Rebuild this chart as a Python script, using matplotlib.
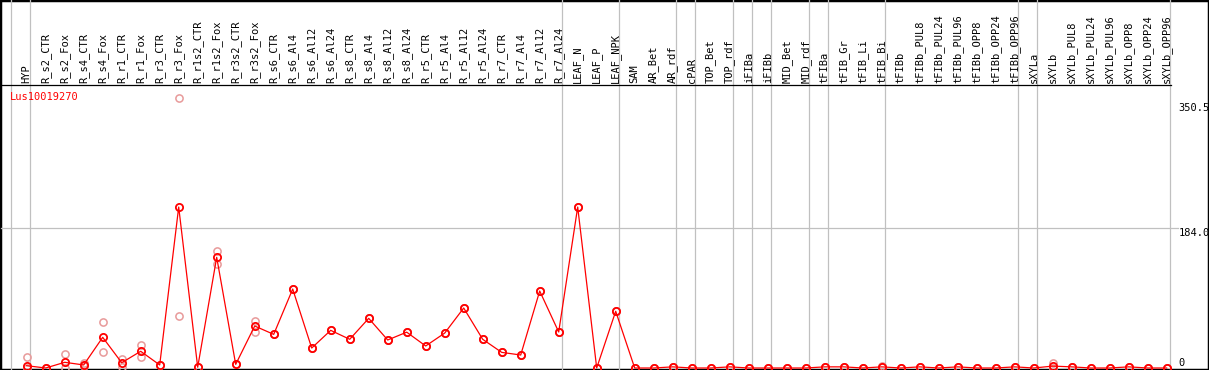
import numpy as np
import matplotlib.pyplot as plt
from matplotlib.transforms import ScaledTranslation

plt.rcParams['font.family'] = ['DejaVu Sans Mono']

# 样本名称
samples = ['HYP', 'R_s2_CTR', 'R_s2_Fox', 'R_s4_CTR', 'R_s4_Fox', 'R_r1_CTR', 'R_r1_Fox',
           'R_r3_CTR', 'R_r3_Fox', 'R_r1s2_CTR', 'R_r1s2_Fox', 'R_r3s2_CTR', 'R_r3s2_Fox',
           'R_s6_CTR', 'R_s6_Al4', 'R_s6_Al12', 'R_s6_Al24', 'R_s8_CTR', 'R_s8_Al4',
           'R_s8_Al12', 'R_s8_Al24', 'R_r5_CTR', 'R_r5_Al4', 'R_r5_Al12', 'R_r5_Al24',
           'R_r7_CTR', 'R_r7_Al4', 'R_r7_Al12', 'R_r7_Al24', 'LEAF_N', 'LEAF_P', 'LEAF_NPK',
           'SAM', 'AR_Bet', 'AR_rdf', 'cPAR', 'TOP_Bet', 'TOP_rdf', 'iFIBa', 'iFIBb',
           'MID_Bet', 'MID_rdf', 'tFIBa', 'tFIB_Gr', 'tFIB_Li', 'tFIB_Bi', 'tFIBb',
           'tFIBb_PUL8', 'tFIBb_PUL24', 'tFIBb_PUL96', 'tFIBb_OPP8', 'tFIBb_OPP24',
           'tFIBb_OPP96', 'sXYLa', 'sXYLb', 'sXYLb_PUL8', 'sXYLb_PUL24', 'sXYLb_PUL96',
           'sXYLb_OPP8', 'sXYLb_OPP24', 'sXYLb_OPP96']

# 平均表达值
mean_expr = [3.0, 0, 7.5, 4, 40.4, 7, 22, 4, 212, 1, 145.8, 4.8, 55.3,
             44.3, 104, 26.3, 49.6, 37.8, 65.4, 36.9, 47.2, 29, 46, 79, 37.8,
             20.6, 17.1, 101.4, 47.4, 212, 0, 74.7,
             0, 0, 1.5, 0, 0, 1.5, 0, 0, 0, 0, 1.5, 1.5, 0, 1.5, 0,
             1.5, 0, 1.5, 0, 0, 1.5, 0, 2.5, 1.5, 0, 0, 1.5, 0, 0]

# 重复样本 (浅色点)
rep1 = [14.5, 0, 18, 6, 60.2, 11.4, 30.7, 4, 355, 1, 154.5, 4.8, 62.3,
        44.3, 104, 26.3, 49.6, 37.8, 65.4, 36.9, 47.2, 29, 46, 79, 37.8,
        20.6, 17.1, 101.4, 47.4, 212, 0, 74.7,
        0, 0, 1.5, 0, 0, 1.5, 0, 0, 0, 0, 1.5, 1.5, 0, 3, 0,
        1.5, 0, 1.5, 0, 0, 1.5, 0, 7, 1.5, 0, 0, 1.5, 0, 0]
rep2 = [0, 0, 0, 2, 20.7, 1.8, 14, 4, 68.5, 1, 137, 4.8, 47,
        44.3, 104, 26.3, 49.6, 37.8, 65.4, 36.9, 47.2, 29, 46, 79, 37.8,
        20.6, 17.1, 101.4, 47.4, 212, 0, 74.7,
        0, 0, 1.5, 0, 0, 1.5, 0, 0, 0, 0, 1.5, 1.5, 0, 1.5, 0,
        1.5, 0, 1.5, 0, 0, 1.5, 0, 0, 1.5, 0, 0, 1.5, 0, 0]

# 分组边界 (在这些样本之后)
group_ends = [-1, 0, 28, 31, 34, 35, 37, 38, 39, 41, 42, 45, 52, 53, 60]
y_ticks = [0, 184.0, 350.5]
y_ticklabels = ['0', '184.0', '350.5']
gene = 'Lus10019270'

W, H = 1209, 370
fig = plt.figure(figsize=(W / 100, H / 100), dpi=100)

# 外框
frame = fig.add_axes([0, 0, 1, 1])
frame.set_xticks([])
frame.set_yticks([])
frame.patch.set_alpha(0)
for s in frame.spines.values():
    s.set_linewidth(2.5)
    s.set_color('black')

# 像素 -> 坐标
x0, dx = 26.7, 19.0
left_px, right_px = 1, 1170.7
top_px, bot_px = 85, 369
ax = fig.add_axes([left_px / W, (H - bot_px) / H, (right_px - left_px) / W, (bot_px - top_px) / H])
ax.patch.set_alpha(0)
ax.set_xlim((left_px - x0) / dx, (right_px - x0) / dx)
scale = (368 - 228.3) / 184.0
ax.set_ylim(-(bot_px - 368) / scale, (368 - top_px) / scale)

x = np.arange(len(samples))

# 分隔线 (延伸到表头)
for g in group_ends:
    ax.axvline(g + 0.19, ymin=0, ymax=bot_px / (bot_px - top_px), color='#c0c0c0',
               lw=0.9, clip_on=False, zorder=0)
ax.axhline(y_ticks[1], xmin=0, xmax=1.006, color='#c0c0c0', lw=0.9, clip_on=False, zorder=0)

ax.plot(x, rep1, 'o', ms=5.2, mfc='none', mec='#e89a9a', mew=1.1, zorder=2, clip_on=False)
ax.plot(x, rep2, 'o', ms=5.2, mfc='none', mec='#e89a9a', mew=1.1, zorder=2, clip_on=False)
ax.plot(x, mean_expr, '-', color='red', lw=0.9, zorder=3)
ax.plot(x, mean_expr, 'o', ms=5.2, mfc='none', mec='red', mew=1.3, zorder=4, clip_on=False)

ax.text(0.0075, 0.957, gene, color='red', fontsize=7.5, ha='left', va='center',
        transform=ax.transAxes)

# 样本标签在上方
ax.xaxis.tick_top()
ax.set_xticks(x)
ax.set_xticklabels(samples, rotation=90, fontsize=7.5, va='bottom', ha='center')
ax.tick_params(axis='x', length=0, pad=1.5)

# 右侧刻度
ax.yaxis.tick_right()
ax.set_yticks(y_ticks)
ax.set_yticklabels(y_ticklabels, fontsize=7.5)
ax.tick_params(axis='y', length=0, pad=5.5)
for lab, off in zip(ax.get_yticklabels(), [6.0, -3.4, -4.7]):
    lab.set_transform(lab.get_transform() + ScaledTranslation(0, off / 100, fig.dpi_scale_trans))

ax.spines['top'].set_linewidth(0.9)
ax.spines['left'].set_visible(False)
ax.spines['right'].set_visible(False)
ax.spines['bottom'].set_visible(False)

fig.savefig('out.png', dpi=100)
